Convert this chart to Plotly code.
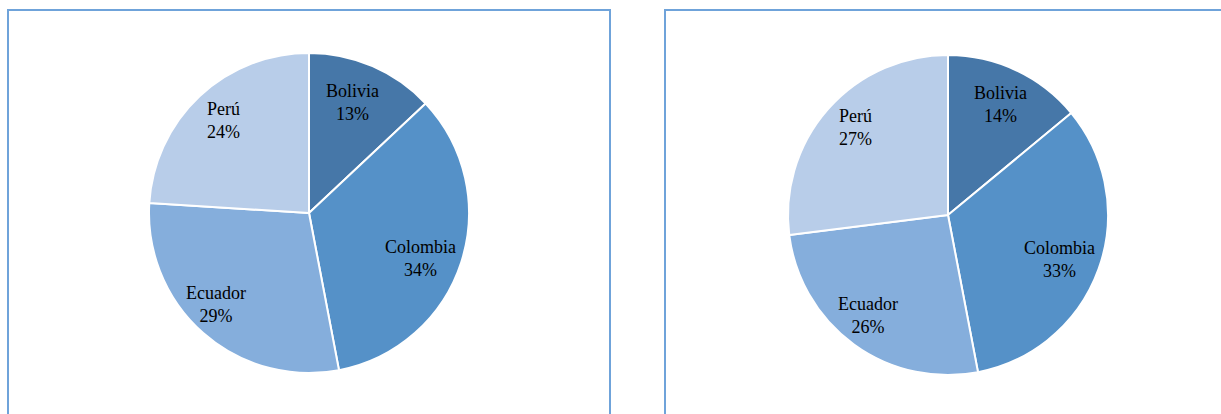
import math
import plotly.graph_objects as go

W, H = 1221, 414

countries = ["Bolivia", "Colombia", "Ecuador", "Perú"]
values_left = [13, 34, 29, 24]
values_right = [14, 33, 26, 27]

colors = ["#4677A8", "#5591C8", "#85AEDC", "#B8CDE9"]
border_color = "#6FA3DA"

# style: pie geometry in pixels (center x, center y from top, radius),
# label radius fractions and label angle tweaks (degrees)
panels = [
    dict(values=values_left, cx=309, cy=213, r=160,
         lab=[0.741, 0.749, 0.817, 0.789], dang=[-2.1, 4.1, 3.9, 0.3]),
    dict(values=values_right, cx=948, cy=215, r=160,
         lab=[0.766, 0.754, 0.805, 0.796], dang=[0.4, 2.1, 2.4, 2.3]),
]

fig = go.Figure()
annotations = []
for p in panels:
    cx, cy, r = p["cx"], p["cy"], p["r"]
    fig.add_trace(go.Pie(
        labels=countries,
        values=p["values"],
        sort=False,
        direction="clockwise",
        rotation=0,
        marker=dict(colors=colors, line=dict(color="white", width=2)),
        textinfo="none",
        hoverinfo="label+percent",
        showlegend=False,
        domain=dict(x=[(cx - r) / W, (cx + r) / W],
                    y=[1 - (cy + r) / H, 1 - (cy - r) / H]),
    ))
    total = sum(p["values"])
    cum = 0
    for name, v, f, da in zip(countries, p["values"], p["lab"], p["dang"]):
        mid = (cum + v / 2) / total * 2 * math.pi + math.radians(da)
        cum += v
        x = cx + f * r * math.sin(mid)
        y = cy - f * r * math.cos(mid)
        pct = round(v / total * 100)
        annotations.append(dict(
            x=x / W, y=1 - y / H, xref="paper", yref="paper",
            text=f"{name}<br>{pct}%", showarrow=False,
            font=dict(family="Liberation Serif", size=18, color="black"),
            xanchor="center", yanchor="middle",
        ))

shapes = [
    dict(type="rect", xref="paper", yref="paper",
         x0=8 / W, x1=610 / W, y0=-0.1, y1=1 - 10 / H,
         line=dict(color=border_color, width=2)),
    dict(type="rect", xref="paper", yref="paper",
         x0=665 / W, x1=1.05, y0=-0.1, y1=1 - 10 / H,
         line=dict(color=border_color, width=2)),
]

fig.update_layout(
    width=W, height=H,
    margin=dict(l=0, r=0, t=0, b=0),
    paper_bgcolor="white",
    plot_bgcolor="white",
    annotations=annotations,
    shapes=shapes,
)

fig.write_html(
    "out.html",
    config={"displayModeBar": False},
    post_script="document.body.style.margin='0';document.body.style.overflow='hidden';",
)
